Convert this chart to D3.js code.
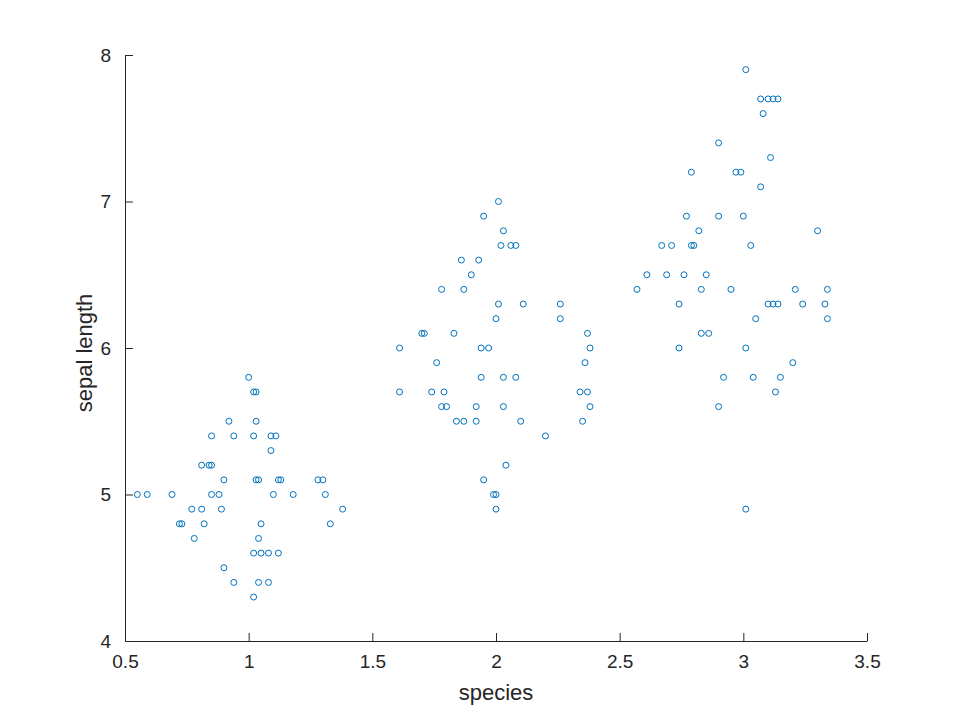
<!DOCTYPE html>
<html>
<head>
<meta charset="utf-8">
<script src="https://cdn.jsdelivr.net/npm/d3@7"></script>
<style>
  body { margin: 0; background: #fff; }
  text { font-family: "Liberation Sans", Arial, sans-serif; fill: #262626; }
</style>
</head>
<body>
<svg id="chart" width="960" height="720"></svg>
<script>
// setosa
const setosaX = [1.00, 1.02, 1.03, 0.92, 1.03, 0.85, 0.94, 1.02, 1.09, 1.11, 1.09, 0.81, 0.84, 0.85,
  0.90, 1.03, 1.04, 1.12, 1.13, 1.28, 1.30, 0.55, 0.59, 0.69, 0.85, 0.88, 1.10, 1.18, 1.31,
  0.77, 0.81, 0.89, 1.38, 0.72, 0.73, 0.82, 1.05, 1.33, 0.78, 1.04, 1.02, 1.05, 1.08, 1.12,
  0.90, 0.94, 1.04, 1.08, 1.02];
const setosaY = [5.8, 5.7, 5.7, 5.5, 5.5, 5.4, 5.4, 5.4, 5.4, 5.4, 5.3, 5.2, 5.2, 5.2,
  5.1, 5.1, 5.1, 5.1, 5.1, 5.1, 5.1, 5.0, 5.0, 5.0, 5.0, 5.0, 5.0, 5.0, 5.0,
  4.9, 4.9, 4.9, 4.9, 4.8, 4.8, 4.8, 4.8, 4.8, 4.7, 4.7, 4.6, 4.6, 4.6, 4.6,
  4.5, 4.4, 4.4, 4.4, 4.3];
// versicolor
const versicolorX = [2.01, 1.95, 2.03, 2.02, 2.06, 2.08, 1.86, 1.93, 1.90, 1.78, 1.87, 2.01, 2.11, 2.26,
  2.00, 2.26, 1.70, 1.71, 1.83, 2.37, 1.61, 1.94, 1.97, 2.38, 1.76, 2.36, 1.94, 2.03, 2.08,
  1.61, 1.74, 1.79, 2.34, 2.37, 1.78, 1.80, 1.92, 2.03, 2.38, 1.84, 1.87, 1.92, 2.10, 2.35,
  2.20, 2.04, 1.95, 1.99, 2.00, 2.00];
const versicolorY = [7.0, 6.9, 6.8, 6.7, 6.7, 6.7, 6.6, 6.6, 6.5, 6.4, 6.4, 6.3, 6.3, 6.3,
  6.2, 6.2, 6.1, 6.1, 6.1, 6.1, 6.0, 6.0, 6.0, 6.0, 5.9, 5.9, 5.8, 5.8, 5.8,
  5.7, 5.7, 5.7, 5.7, 5.7, 5.6, 5.6, 5.6, 5.6, 5.6, 5.5, 5.5, 5.5, 5.5, 5.5,
  5.4, 5.2, 5.1, 5.0, 5.0, 4.9];
// virginica
const virginicaX = [3.01, 3.07, 3.10, 3.12, 3.14, 3.08, 2.90, 3.11, 2.79, 2.97, 2.99, 3.07,
  2.77, 2.90, 3.00, 2.82, 3.30, 2.67, 2.71, 2.79, 2.80, 3.03, 2.61, 2.69, 2.76, 2.85,
  2.57, 2.83, 2.95, 3.21, 3.34, 2.74, 3.10, 3.12, 3.14, 3.24, 3.33, 3.05, 3.34,
  2.83, 2.86, 2.74, 3.01, 3.20, 2.92, 3.04, 3.15, 3.13, 2.90, 3.01];
const virginicaY = [7.9, 7.7, 7.7, 7.7, 7.7, 7.6, 7.4, 7.3, 7.2, 7.2, 7.2, 7.1,
  6.9, 6.9, 6.9, 6.8, 6.8, 6.7, 6.7, 6.7, 6.7, 6.7, 6.5, 6.5, 6.5, 6.5,
  6.4, 6.4, 6.4, 6.4, 6.4, 6.3, 6.3, 6.3, 6.3, 6.3, 6.3, 6.2, 6.2,
  6.1, 6.1, 6.0, 6.0, 5.9, 5.8, 5.8, 5.8, 5.7, 5.6, 4.9];

const xTicks = [0.5, 1, 1.5, 2, 2.5, 3, 3.5];
const yTicks = [4, 5, 6, 7, 8];

const points = [];
[[setosaX, setosaY], [versicolorX, versicolorY], [virginicaX, virginicaY]].forEach(([xs, ys]) => {
  xs.forEach((x, i) => points.push({ x: x, y: ys[i] }));
});

const svg = d3.select('#chart');
const m = { left: 125, right: 867, top: 55, bottom: 641 };

const x = d3.scaleLinear().domain([0.5, 3.5]).range([m.left, m.right]);
const y = d3.scaleLinear().domain([4, 8]).range([m.bottom, m.top]);

const xAxis = svg.append('g')
  .attr('transform', `translate(0,${m.bottom})`)
  .call(d3.axisBottom(x).tickValues(xTicks).tickSizeInner(-8).tickSizeOuter(0).tickPadding(14).tickFormat(d3.format('')));
const yAxis = svg.append('g')
  .attr('transform', `translate(${m.left},0)`)
  .call(d3.axisLeft(y).tickValues(yTicks).tickSizeInner(-8).tickSizeOuter(0).tickPadding(14).tickFormat(d3.format('d')));

[xAxis, yAxis].forEach(g => {
  g.selectAll('path, line').attr('stroke', '#262626');
  g.selectAll('text').attr('font-size', 19).attr('fill', '#262626');
});

svg.append('text')
  .attr('x', (m.left + m.right) / 2).attr('y', 700)
  .attr('text-anchor', 'middle').attr('font-size', 22)
  .text('species');
svg.append('text')
  .attr('transform', `translate(92,${(m.top + m.bottom) / 2 + 5}) rotate(-90)`)
  .attr('text-anchor', 'middle').attr('font-size', 22)
  .text('sepal length');

svg.append('g')
  .selectAll('circle')
  .data(points)
  .enter()
  .append('circle')
  .attr('cx', d => x(d.x))
  .attr('cy', d => y(d.y))
  .attr('r', 3)
  .attr('fill', 'none')
  .attr('stroke', '#0072bd')
  .attr('stroke-width', 1);
</script>
</body>
</html>
